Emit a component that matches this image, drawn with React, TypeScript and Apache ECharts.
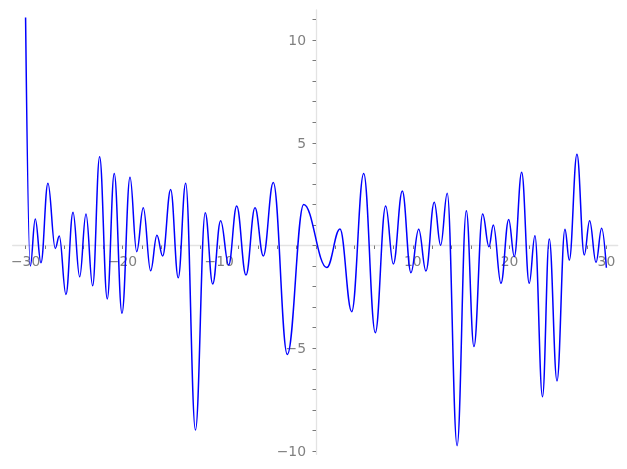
import React, { useEffect, useRef } from 'react';
import * as echarts from 'echarts';

// Local extrema of the plotted curve
const xValues = [
  -30, -29.51, -29.0, -28.41, -27.69, -26.93, -26.52, -25.83, -25.1, -24.41,
  -23.76, -23.07, -22.35, -21.56, -20.84, -20.04, -19.21, -18.52, -17.84, -17.08,
  -16.43, -15.84, -15.01, -14.23, -13.46, -12.45, -11.44, -10.67, -9.85, -9.02,
  -8.19, -7.23, -6.3, -5.44, -4.41, -2.96, -1.27, 1.12, 2.48, 3.69,
  4.93, 6.13, 7.2, 7.99, 8.92, 9.81, 10.61, 11.36, 12.22, 12.88,
  13.56, 14.58, 15.53, 16.32, 17.22, 17.87, 18.32, 19.11, 19.91, 20.49,
  21.25, 22.03, 22.62, 23.4, 24.1, 24.9, 25.72, 26.17, 26.96, 27.72,
  28.27, 28.93, 29.51, 30.0,
];
const yValues = [
  11.1, -1.0, 1.29, -0.84, 3.03, -0.14, 0.46, -2.38, 1.62, -1.52,
  1.53, -1.96, 4.32, -2.6, 3.51, -3.3, 3.32, -0.3, 1.84, -1.23,
  0.5, -0.51, 2.73, -1.57, 3.03, -8.98, 1.6, -1.87, 1.21, -0.95,
  1.92, -1.44, 1.84, -0.51, 3.06, -5.3, 2.0, -1.07, 0.8, -3.22,
  3.51, -4.24, 1.92, -0.9, 2.65, -1.32, 0.79, -1.24, 2.1, 0.01,
  2.54, -9.74, 1.69, -4.92, 1.53, -0.06, 1.0, -1.84, 1.27, -0.54,
  3.56, -1.84, 0.48, -7.36, 0.32, -6.59, 0.79, -0.71, 4.44, -0.46,
  1.21, -0.82, 0.84, -1.08,
];

const xTickLabels = [-30, -20, -10, 10, 20, 30];
const yTickLabels = [-10, -5, 5, 10];

const fmtMinus = (v: number) => String(v).replace('-', '\u2212');

// geometry of the tick grid (grid 1): x -30..30, y -10..11
const G1_LEFT = 25.6;
const G1_TOP = 19.45;
const G1_W = 580.8;
const G1_H = 431.55;
const ZERO_X = G1_LEFT + G1_W / 2; // x = 0
const ZERO_Y = G1_TOP + (11 / 21) * G1_H; // y = 0

export default function App() {
  const ref = useRef<HTMLDivElement>(null);
  useEffect(() => {
    if (!ref.current) return;
    const chart = echarts.init(ref.current, undefined, { renderer: 'svg' });
    const labelStyle = {
      color: '#808080',
      fontFamily: 'DejaVu Sans',
      fontSize: 13.9,
    };
    const tickStyle = { color: '#7a7a7a', width: 1 };
    chart.setOption({
      animation: false,
      grid: [
        { left: 12.7, top: 10, width: 605, height: 444.3, containLabel: false },
        { left: G1_LEFT, top: G1_TOP, width: G1_W, height: G1_H, containLabel: false },
      ],
      xAxis: [
        {
          type: 'value',
          gridIndex: 0,
          min: -31.33,
          max: 31.17,
          axisLine: { show: true, onZero: true, lineStyle: { color: '#e3e3e3', width: 1.3 } },
          axisTick: { show: false },
          axisLabel: { show: false },
          splitLine: { show: false },
        },
        {
          type: 'value',
          gridIndex: 1,
          position: 'bottom',
          offset: -(G1_TOP + G1_H - ZERO_Y),
          min: -30,
          max: 30,
          interval: 10,
          axisLine: { show: false, onZero: false },
          axisTick: { show: true, inside: false, length: 3.5, lineStyle: tickStyle },
          minorTick: { show: true, splitNumber: 5, length: 3.5, lineStyle: tickStyle },
          axisLabel: {
            ...labelStyle,
            margin: 8,
            formatter: (v: number) => (xTickLabels.includes(v) ? fmtMinus(v) : ''),
          },
          splitLine: { show: false },
          minorSplitLine: { show: false },
        },
      ],
      yAxis: [
        {
          type: 'value',
          gridIndex: 0,
          min: -10.16,
          max: 11.46,
          axisLine: { show: true, onZero: true, lineStyle: { color: '#e3e3e3', width: 1.3 } },
          axisTick: { show: false },
          axisLabel: { show: false },
          splitLine: { show: false },
        },
        {
          type: 'value',
          gridIndex: 1,
          position: 'left',
          offset: -(ZERO_X - G1_LEFT),
          min: -10,
          max: 11,
          interval: 5,
          axisLine: { show: false, onZero: false },
          axisTick: { show: true, inside: false, length: 3.5, lineStyle: tickStyle },
          minorTick: { show: true, splitNumber: 5, length: 3.5, lineStyle: tickStyle },
          axisLabel: {
            ...labelStyle,
            margin: 10,
            formatter: (v: number) => (yTickLabels.includes(v) ? fmtMinus(v) : ''),
          },
          splitLine: { show: false },
          minorSplitLine: { show: false },
        },
      ],
      series: [
        {
          type: 'line',
          xAxisIndex: 0,
          yAxisIndex: 0,
          data: xValues.map((x, i) => [x, yValues[i]]),
          symbol: 'none',
          showSymbol: false,
          smooth: 0.4,
          smoothMonotone: 'x',
          clip: false,
          lineStyle: { color: '#0000ff', width: 1.5 },
        },
      ],
    });
    return () => chart.dispose();
  }, []);
  return (
    <div
      ref={ref}
      style={{ position: 'fixed', left: 0, top: 0, width: 627, height: 469 }}
    />
  );
}
